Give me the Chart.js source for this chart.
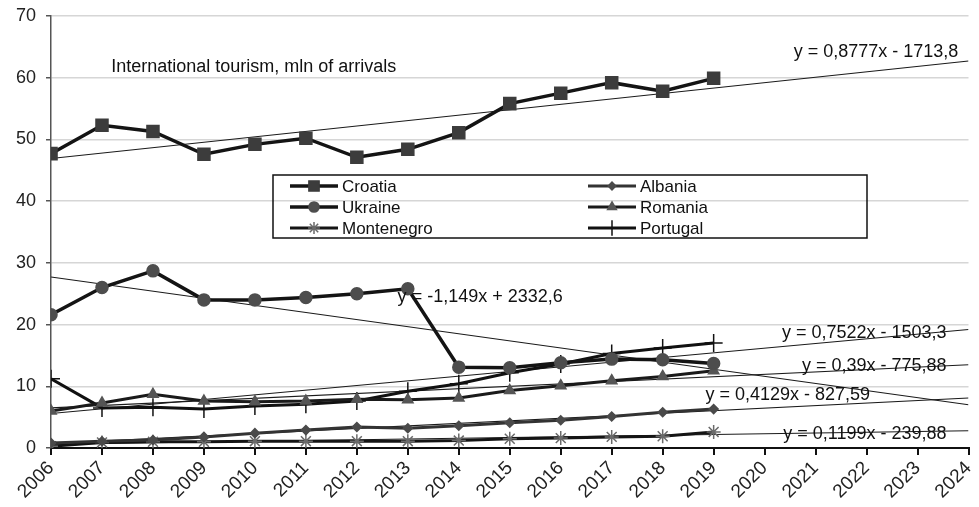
<!DOCTYPE html>
<html>
<head>
<meta charset="utf-8">
<script src="https://cdn.jsdelivr.net/npm/chart.js@4.4.1/dist/chart.umd.min.js"></script>
<style>
  html, body { margin: 0; padding: 0; background: #fff; }
  #tourismChart { display: block; }
</style>
</head>
<body>
<canvas id="tourismChart" width="979" height="507"></canvas>
<script>
// International tourism, mln of arrivals

const years = [2006, 2007, 2008, 2009, 2010, 2011, 2012, 2013, 2014, 2015, 2016, 2017, 2018, 2019];
const croatia    = [47.7, 52.3, 51.3, 47.6, 49.2, 50.2, 47.1, 48.4, 51.1, 55.8, 57.5, 59.2, 57.8, 59.9];
const albania    = [0.8, 1.1, 1.3, 1.8, 2.4, 2.9, 3.4, 3.2, 3.6, 4.1, 4.5, 5.1, 5.8, 6.3];
const ukraine    = [21.6, 26.0, 28.7, 24.0, 24.0, 24.4, 25.0, 25.8, 13.1, 13.0, 13.8, 14.4, 14.3, 13.7];
const romania    = [6.0, 7.3, 8.7, 7.6, 7.5, 7.6, 7.9, 7.8, 8.1, 9.3, 10.1, 10.9, 11.6, 12.5];
const montenegro = [0.3, 0.9, 1.0, 1.0, 1.1, 1.1, 1.1, 1.1, 1.2, 1.5, 1.6, 1.8, 1.9, 2.6];
const portugal   = [11.2, 6.5, 6.6, 6.3, 6.8, 7.1, 7.6, 9.2, 10.4, 12.2, 13.6, 15.3, 16.2, 17.0];

// trend lines: start / end values over the whole axis
const trendYears      = [2006, 2024];
const croatiaTrend    = [46.9, 62.7];
const ukraineTrend    = [27.7, 7.0];
const portugalTrend   = [5.6, 19.2];
const romaniaTrend    = [6.5, 13.5];
const albaniaTrend    = [0.7, 8.1];
const montenegroTrend = [0.6, 2.8];

const equations = [
  'y = 0,8777x - 1713,8',
  'y = -1,149x + 2332,6',
  'y = 0,7522x - 1503,3',
  'y = 0,39x - 775,88',
  'y = 0,4129x - 827,59',
  'y = 0,1199x - 239,88'
];
const chartTitle = 'International tourism, mln of arrivals';

const FONT = '"Liberation Sans", Arial, sans-serif';

function pts(xs, ys) {
  return xs.map((x, i) => ({ x: x, y: ys[i] }));
}

function series(label, values, style, radius, pointColor, lineColor, lineWidth) {
  return {
    label: label,
    data: pts(years, values),
    borderColor: lineColor,
    borderWidth: lineWidth,
    pointStyle: style,
    pointRadius: radius,
    pointBackgroundColor: pointColor,
    pointBorderColor: pointColor,
    pointBorderWidth: 1.5,
    tension: 0,
    legend: true
  };
}

function trend(values) {
  return {
    label: '',
    data: pts(trendYears, values),
    borderColor: '#1a1a1a',
    borderWidth: 1.1,
    pointRadius: 0,
    tension: 0
  };
}

// legend box inside the plot, drawn by hand
const legendPlugin = {
  id: 'boxLegend',
  afterDraw(chart) {
    const ctx = chart.ctx;
    const box = { x: 273, y: 175, w: 594, h: 63 };
    ctx.save();
    ctx.strokeStyle = '#111';
    ctx.lineWidth = 1.5;
    ctx.strokeRect(box.x, box.y, box.w, box.h);
    const items = chart.data.datasets.filter(d => d.legend);
    const cols = [290, 588];
    const rows = [186, 207, 228];
    ctx.font = '17px ' + FONT;
    ctx.textBaseline = 'middle';
    ctx.fillStyle = '#111';
    items.forEach((d, i) => {
      const cx = cols[i % 2];
      const cy = rows[Math.floor(i / 2)];
      ctx.strokeStyle = d.borderColor;
      ctx.lineWidth = d.borderWidth;
      ctx.beginPath();
      ctx.moveTo(cx, cy);
      ctx.lineTo(cx + 48, cy);
      ctx.stroke();
      ctx.fillStyle = d.pointBackgroundColor;
      ctx.strokeStyle = d.pointBorderColor;
      ctx.lineWidth = d.pointBorderWidth;
      Chart.helpers.drawPoint(ctx, {
        pointStyle: d.pointStyle,
        radius: d.pointRadius * 0.85,
        rotation: 0,
        borderWidth: d.pointBorderWidth
      }, cx + 24, cy);
      ctx.fillStyle = '#111';
      ctx.fillText(d.label, cx + 52, cy + 1);
    });
    ctx.restore();
  }
};

// title text and trend-line equations
const notePlugin = {
  id: 'notes',
  afterDraw(chart) {
    const ctx = chart.ctx;
    const xs = chart.scales.x, ys = chart.scales.y;
    const notes = [
      { text: chartTitle,   x: 2007.18, y: 61.7, align: 'left' },
      { text: equations[0], x: 2023.8,  y: 64.1, align: 'right' },
      { text: equations[1], x: 2012.8,  y: 24.5, align: 'left' },
      { text: equations[2], x: 2023.57, y: 18.7, align: 'right' },
      { text: equations[3], x: 2023.57, y: 13.3, align: 'right' },
      { text: equations[4], x: 2022.07, y: 8.6,  align: 'right' },
      { text: equations[5], x: 2023.57, y: 2.3,  align: 'right' }
    ];
    ctx.save();
    ctx.font = '18px ' + FONT;
    ctx.fillStyle = '#111';
    ctx.textBaseline = 'middle';
    notes.forEach(n => {
      ctx.textAlign = n.align;
      ctx.fillText(n.text, xs.getPixelForValue(n.x), ys.getPixelForValue(n.y));
    });
    ctx.restore();
  }
};

const ctxEl = document.getElementById('tourismChart');
const tourismChart = new Chart(ctxEl, {
  type: 'line',
  data: {
    datasets: [
      series('Croatia', croatia, 'rect', 8.5, '#3c3c3c', '#141414', 3.5),
      series('Albania', albania, 'rectRot', 4.5, '#4a4a4a', '#333333', 3),
      series('Ukraine', ukraine, 'circle', 6, '#4d4d4d', '#141414', 3.5),
      series('Romania', romania, 'triangle', 6, '#555555', '#1a1a1a', 3),
      series('Montenegro', montenegro, 'star', 7, '#6a6a6a', '#141414', 3),
      series('Portugal', portugal, 'cross', 9, '#111111', '#111111', 3),
      trend(croatiaTrend),
      trend(ukraineTrend),
      trend(portugalTrend),
      trend(romaniaTrend),
      trend(albaniaTrend),
      trend(montenegroTrend)
    ]
  },
  options: {
    responsive: false,
    animation: false,
    layout: {
      padding: { left: 6, right: 0, top: 16, bottom: 2 }
    },
    scales: {
      x: {
        type: 'linear',
        min: 2006,
        max: 2024,
        ticks: {
          stepSize: 1,
          autoSkip: false,
          minRotation: 45,
          maxRotation: 45,
          color: '#222',
          font: { family: FONT, size: 19 },
          padding: 2,
          callback: v => String(v)
        },
        grid: {
          drawOnChartArea: false,
          drawTicks: true,
          tickLength: 7,
          tickColor: '#111',
          lineWidth: 2
        },
        border: { color: '#111', width: 2 },
        afterFit: s => { s.paddingRight = 5; }
      },
      y: {
        min: 0,
        max: 70,
        ticks: {
          stepSize: 10,
          color: '#222',
          font: { family: FONT, size: 18 },
          padding: 10
        },
        grid: {
          color: '#d6d6d6',
          lineWidth: 1.5,
          tickLength: 5,
          tickColor: '#555'
        },
        border: { color: '#555', width: 1.5 },
        afterFit: s => { s.paddingTop = 0; s.paddingBottom = 0; }
      }
    },
    plugins: {
      legend: { display: false },
      tooltip: { enabled: false },
      title: { display: false }
    }
  },
  plugins: [legendPlugin, notePlugin]
});
</script>
</body>
</html>
